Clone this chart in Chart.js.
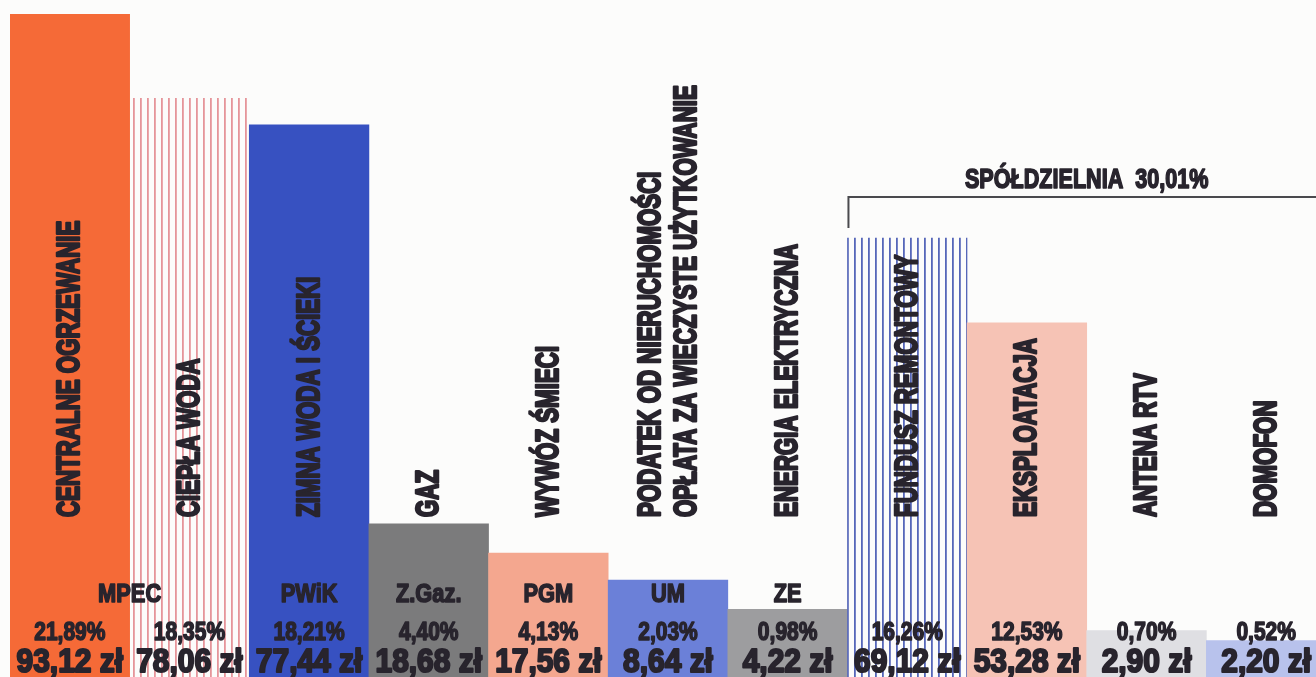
<!DOCTYPE html>
<html>
<head>
<meta charset="utf-8">
<script src="https://cdn.jsdelivr.net/npm/chart.js@4.4.0/dist/chart.umd.min.js"></script>
<style>
  html, body { margin: 0; padding: 0; background: #fcfcfb; overflow: hidden; }
  #wrap { position: relative; width: 1330px; height: 677px; }
</style>
</head>
<body>
<div id="wrap"><canvas id="costChart"></canvas></div>
<script>
// --- data ---
var categories = ['CENTRALNE OGRZEWANIE', 'CIEPŁA WODA', 'ZIMNA WODA I ŚCIEKI', 'GAZ', 'WYWÓZ ŚMIECI',
    'PODATEK OD NIERUCHOMOŚCI\nOPŁATA ZA WIECZYSTE UŻYTKOWANIE', 'ENERGIA ELEKTRYCZNA',
    'FUNDUSZ REMONTOWY', 'EKSPLOATACJA', 'ANTENA RTV', 'DOMOFON'];
// bar heights as drawn in the picture (the original does not draw them to scale)
var barHeights = [93.0, 81.2, 77.5, 21.5, 17.4, 13.6, 9.5, 61.6, 49.7, 6.5, 5.1];
var amounts = ['93,12 zł', '78,06 zł', '77,44 zł', '18,68 zł', '17,56 zł', '8,64 zł', '4,22 zł',
    '69,12 zł', '53,28 zł', '2,90 zł', '2,20 zł'];
var shares = ['21,89%', '18,35%', '18,21%', '4,40%', '4,13%', '2,03%', '0,98%',
    '16,26%', '12,53%', '0,70%', '0,52%'];
var providers = ['MPEC', '', 'PWiK', 'Z.Gaz.', 'PGM', 'UM', 'ZE', '', '', '', ''];
var providerSpan = [2, 0, 1, 1, 1, 1, 1, 0, 0, 0, 0];
var groupLabel = 'SPÓŁDZIELNIA  30,01%';
var groupFrom = 7; // first bar of the cooperative group

var textColor = '#28242d';
var fontFamily = '"Liberation Sans", Arial, sans-serif';

function stripes(color) {
    var c = document.createElement('canvas');
    c.width = 7; c.height = 8;
    var g = c.getContext('2d');
    g.fillStyle = color;
    g.fillRect(0, 0, 1.8, 8);
    return g.createPattern(c, 'repeat');
}

var barColors = ['#f56a37', stripes('#e5959a'), '#3751c1', '#7b7b7c', '#f4a78f', '#6b80d8',
    '#9d9d9f', stripes('#5667b9'), '#f6c3b5', '#dfdfe3', '#b8c2ec'];

// condensed heavy text: squeeze horizontally, thicken with a thin stroke
function narrowText(ctx, text, x, y, size, sx, align, weight) {
    ctx.save();
    ctx.translate(x, y);
    ctx.scale(sx, 1);
    ctx.font = 'bold ' + size + 'px ' + fontFamily;
    ctx.textAlign = align || 'center';
    ctx.lineWidth = size * (weight || 0.06);
    ctx.strokeStyle = textColor;
    ctx.lineJoin = 'round';
    ctx.strokeText(text, 0, 0);
    ctx.fillText(text, 0, 0);
    ctx.restore();
}

var labelsPlugin = {
    id: 'barTexts',
    afterDatasetsDraw: function(chart) {
        var ctx = chart.ctx;
        var x = chart.scales.x;
        var meta = chart.getDatasetMeta(0);
        ctx.save();
        ctx.fillStyle = textColor;

        // rotated names inside the bars
        categories.forEach(function(name, i) {
            var cx = x.getPixelForValue(i);
            var lines = name.split('\n');
            lines.forEach(function(line, j) {
                var off = (j - (lines.length - 1) / 2) * 36;
                ctx.save();
                ctx.translate(cx + off, 517);
                ctx.rotate(-Math.PI / 2);
                ctx.textBaseline = 'middle';
                narrowText(ctx, line, 0, 1, 31, 0.72, 'left', 0.08);
                ctx.restore();
            });
        });

        ctx.textBaseline = 'alphabetic';

        // providers
        providers.forEach(function(p, i) {
            if (!p) return;
            var cx = x.getPixelForValue(i);
            if (providerSpan[i] === 2) {
                cx = (meta.data[i].x + meta.data[i + 1].x) / 2;
            }
            narrowText(ctx, p, cx, 602, 26, 0.84);
        });

        // shares
        shares.forEach(function(s, i) {
            narrowText(ctx, s, x.getPixelForValue(i), 640, 25, 0.84);
        });

        // amounts
        amounts.forEach(function(a, i) {
            narrowText(ctx, a, x.getPixelForValue(i), 672, 34, 0.88, 'center', 0.065);
        });

        // cooperative bracket
        var bw = meta.data[groupFrom].width;
        var left = meta.data[groupFrom].x - bw / 2;
        var right = meta.data[meta.data.length - 1].x + bw / 2;
        ctx.strokeStyle = '#4a4a4e';
        ctx.lineWidth = 2;
        ctx.beginPath();
        ctx.moveTo(left + 1, 228);
        ctx.lineTo(left + 1, 197);
        ctx.lineTo(right, 197);
        ctx.stroke();
        narrowText(ctx, groupLabel, (left + right) / 2, 188, 27, 0.8);
        ctx.restore();
    }
};

var chart = new Chart(document.getElementById('costChart'), {
    type: 'bar',
    data: {
        labels: categories,
        datasets: [{
            data: barHeights,
            backgroundColor: barColors,
            borderWidth: 0,
            categoryPercentage: 1,
            barPercentage: 1
        }]
    },
    options: {
        responsive: true,
        maintainAspectRatio: false,
        animation: false,
        layout: { padding: { left: 10, right: 4, top: 0, bottom: 0 } },
        plugins: { legend: { display: false }, tooltip: { enabled: false } },
        scales: {
            x: { display: false },
            y: { display: false, min: 0, max: 95 }
        }
    },
    plugins: [labelsPlugin]
});
</script>
</body>
</html>
